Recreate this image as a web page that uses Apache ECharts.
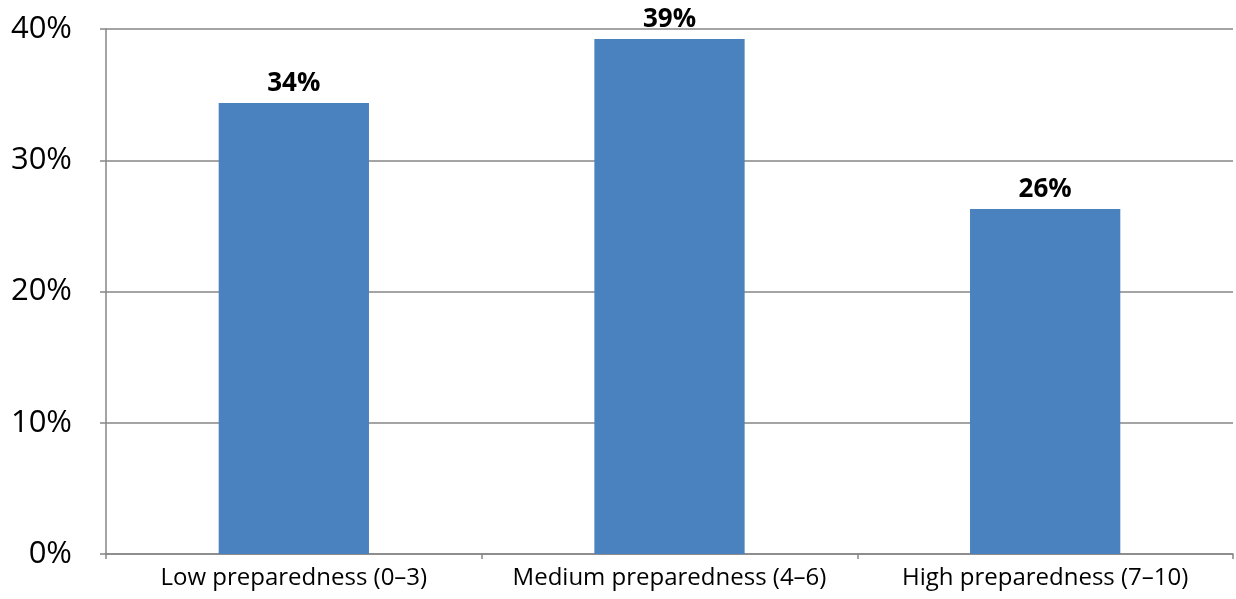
<!DOCTYPE html>
<html><head><meta charset="utf-8">
<script src="https://cdn.jsdelivr.net/npm/echarts@6/dist/echarts.min.js"></script>
<style>html,body{margin:0;padding:0;background:#fff}#c{width:1236px;height:599px}</style>
</head><body><div id="c"></div>
<script>
const categories = ["Low preparedness (0–3)", "Medium preparedness (4–6)", "High preparedness (7–10)"];
const values = [34.36, 39.24, 26.29];
const yTicks = [0, 10, 20, 30, 40];

const chart = echarts.init(document.getElementById('c'), null, {renderer: 'canvas'});
const font = '"Open Sans", "Noto Sans", sans-serif';
chart.setOption({
  animation: false,
  backgroundColor: '#ffffff',
  grid: {left: 106, right: 3, top: 29, bottom: 45, containLabel: false},
  xAxis: {
    type: 'category',
    data: categories,
    axisLine: {lineStyle: {color: '#868686', width: 1.5}},
    axisTick: {show: true, length: 5, lineStyle: {color: '#868686', width: 1.5}},
    axisLabel: {color: '#000', fontSize: 24, fontFamily: font, margin: 12, interval: 0, hideOverlap: false}
  },
  yAxis: {
    type: 'value',
    min: yTicks[0], max: yTicks[yTicks.length - 1], interval: 10,
    axisLine: {show: true, lineStyle: {color: '#868686', width: 1.5}},
    axisTick: {show: true, length: 6, lineStyle: {color: '#868686', width: 1.5}},
    splitLine: {lineStyle: {color: '#868686', width: 1.5}},
    axisLabel: {color: '#000', fontSize: 31, fontFamily: font, margin: 34, formatter: v => v + '%'}
  },
  series: [{
    type: 'bar',
    data: values,
    barCategoryGap: '60%',
    itemStyle: {color: '#4a81bf'},
    label: {
      show: true, position: 'top', distance: 6,
      color: '#000', fontSize: 26, fontWeight: 'bold', fontFamily: font,
      formatter: p => Math.round(p.value) + '%'
    }
  }]
});
</script></body></html>
